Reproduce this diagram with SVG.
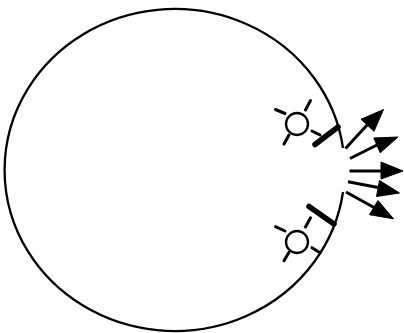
<svg xmlns="http://www.w3.org/2000/svg" width="404" height="333" viewBox="0 0 404 333">
<style>
.o{fill:none;stroke:#000;stroke-width:2.3}
.r{stroke:#000;stroke-width:3;stroke-linecap:round;fill:none}
.b{stroke:#000;stroke-width:5.500;stroke-linecap:round;fill:none}
.a{stroke:#000;stroke-width:3;fill:none}
.h{fill:#000;stroke:#000;stroke-width:1;stroke-linejoin:round}
</style>
<g id="vessel"><path class="o" d="M343 148A170 161 0 1 0 343 192"/></g>
<g id="lamp-top">
<circle class="o" cx="297" cy="124" r="11"/>
<path class="r" d="M275.500 109.500L285 113.500M310.500 100.500L305.500 110M284 144L289 135M312 131L320 135"/>
<path class="b" d="M315 144.500L338 127"/>
</g>
<g id="lamp-bottom">
<circle class="o" cx="297" cy="242" r="11"/>
<path class="r" d="M275.500 226.700L285 231M310.500 217.700L305.500 227M284 260.700L289 252.300M312 247.700L320 252.700"/>
<path class="b" d="M309 206.500L334 224"/>
</g>
<g id="connectors">
<path class="a" d="M345.500 148.500L368 124M350 158.500L377 145M349.500 171L382 171M348 181.700L378 187.500M346 192L374 207.500"/>
<path class="h" d="M383.500 109.500L361 119.300L374 131.300Z"/>
<path class="h" d="M398 137L373.800 138L380.200 152.800Z"/>
<path class="h" d="M403 171L381 162L381 179Z"/>
<path class="h" d="M399.500 193L379.500 180.500L376.500 196.500Z"/>
<path class="h" d="M393.500 218.800L378 200.500L369.500 214.700Z"/>
</g>
</svg>
